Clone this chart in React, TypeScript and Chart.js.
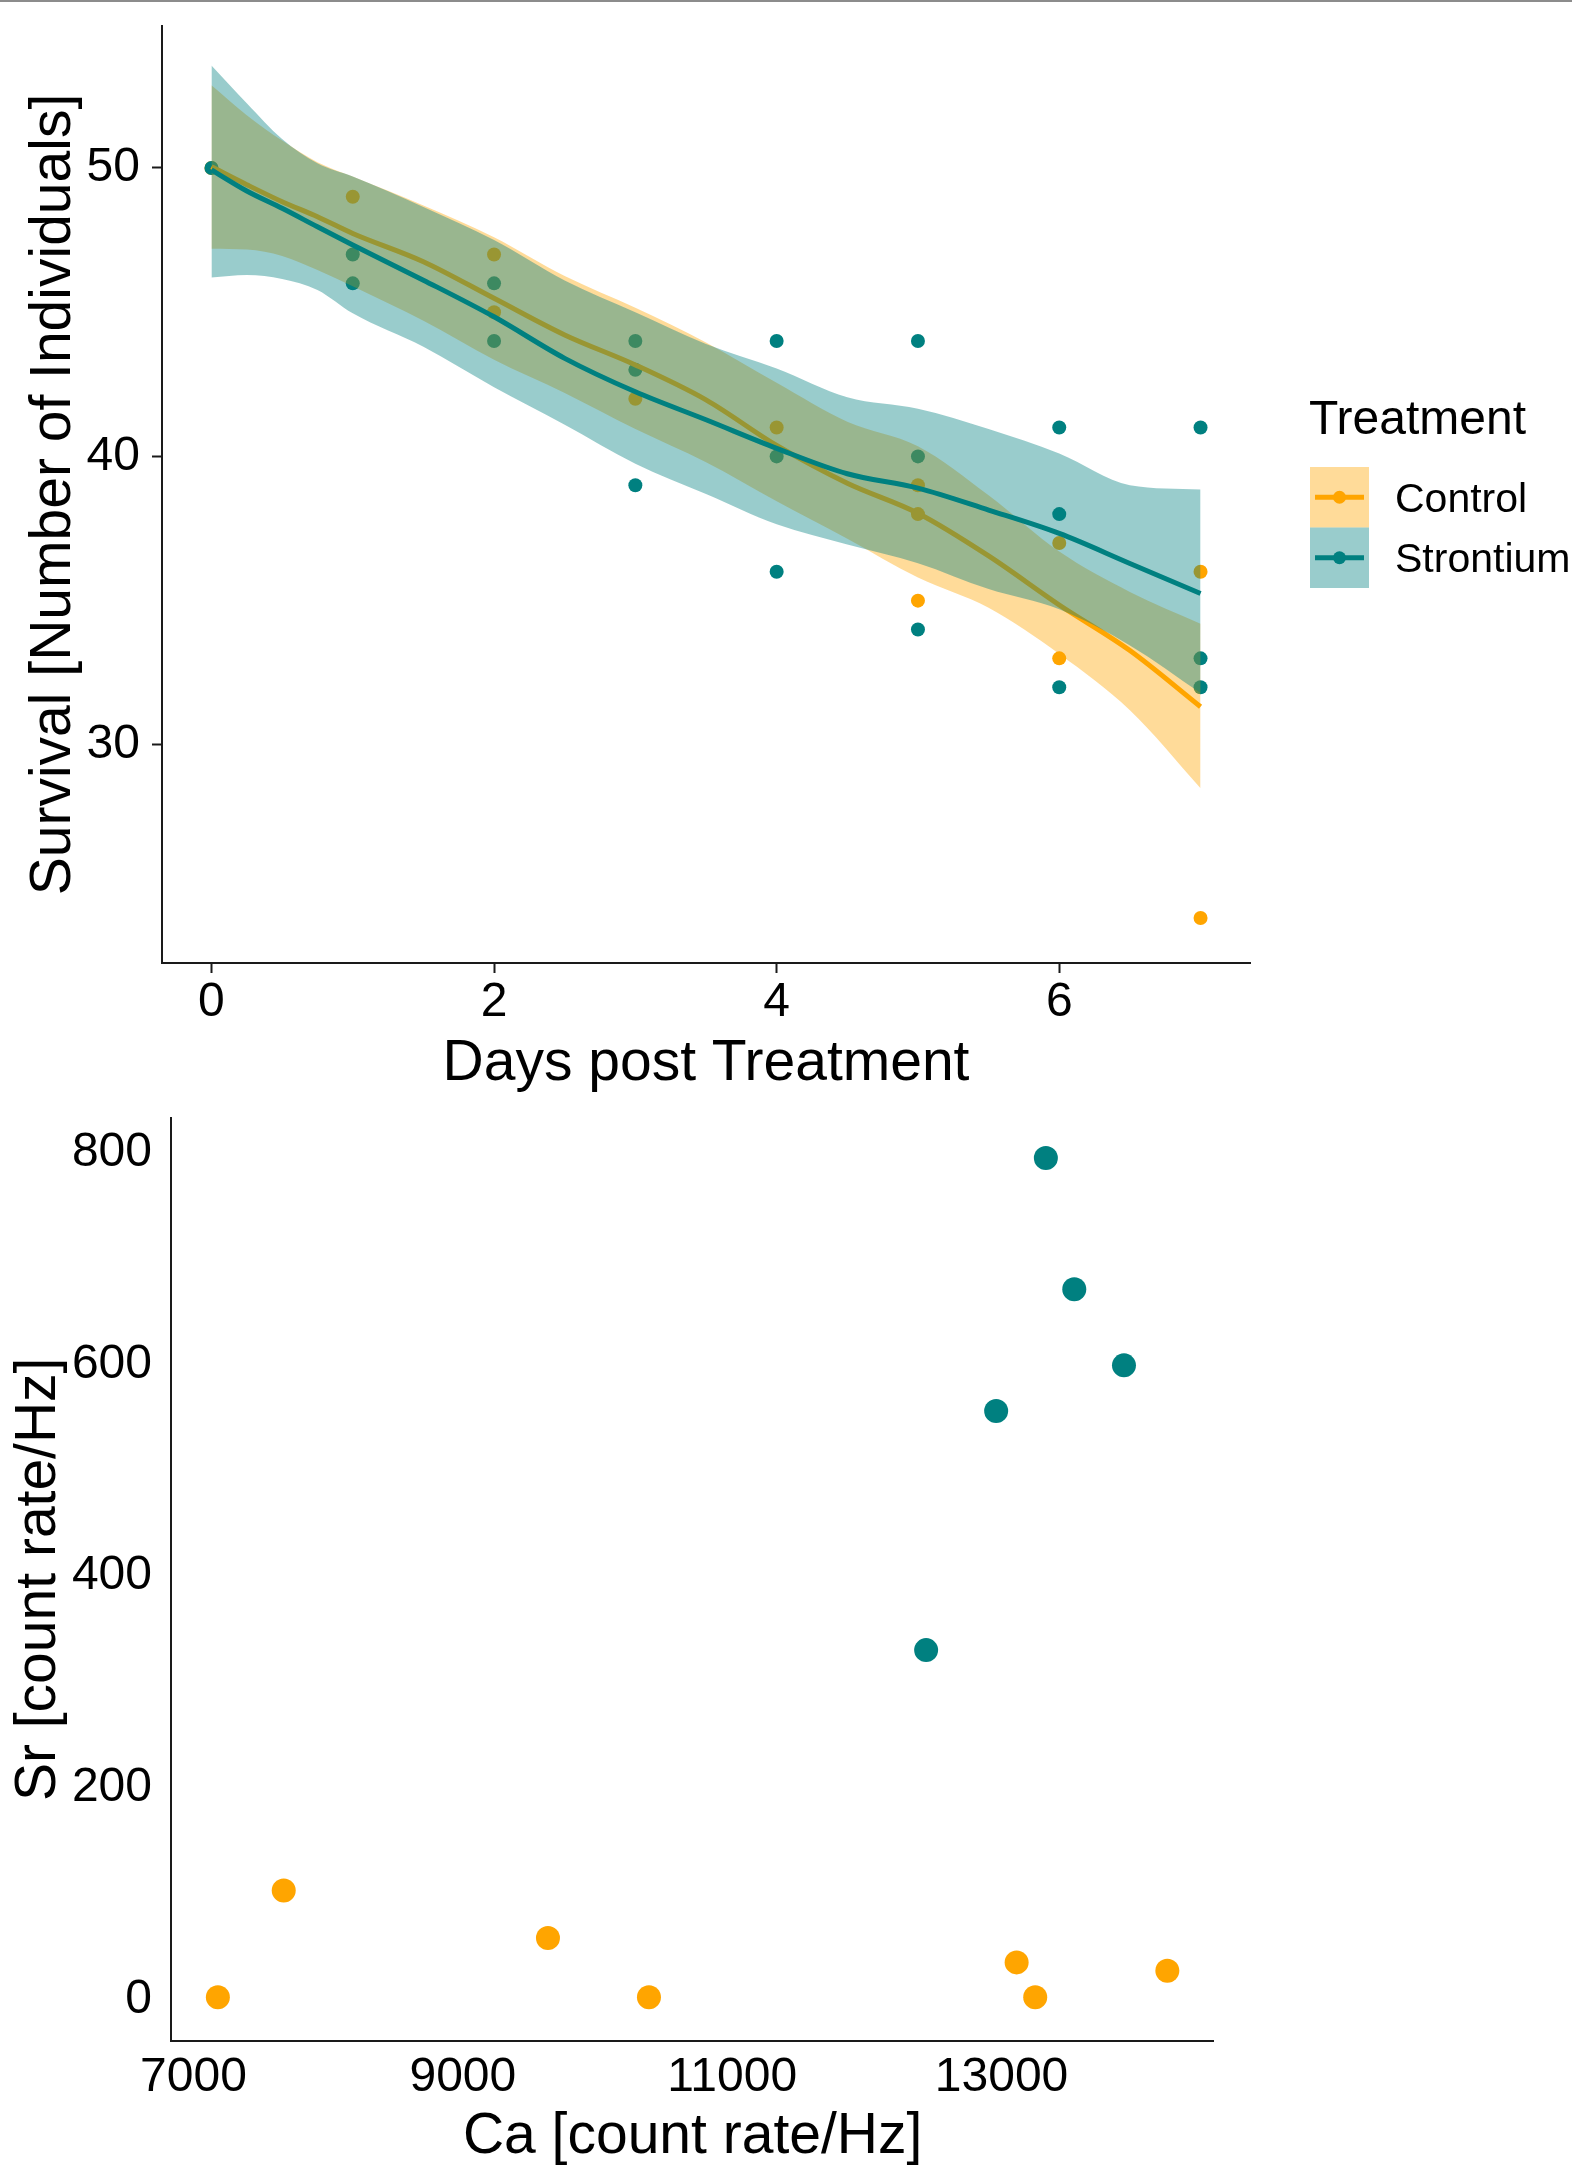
import React, { useEffect, useRef } from "react";
import { Chart, registerables } from "chart.js";

Chart.register(...registerables);

const FONT = '"Liberation Sans", Arimo, Arial, sans-serif';
const ORANGE = "#FFA500";
const TEAL = "#008080";
const ORANGE_RIBBON = "rgba(255, 165, 0, 0.4)";
const TEAL_RIBBON = "rgba(0, 128, 128, 0.4)";
const AXIS = "#1a1a1a";

// ---------- Top panel: survival over time ----------
const treatments = ["Control", "Strontium"];
const dayTicks = [0, 2, 4, 6];
const survivalTicks = [30, 40, 50];

const controlDays = [0, 1, 2, 2, 3, 4, 5, 5, 5, 6, 6, 7, 7];
const controlSurvival = [50, 49, 47, 45, 42, 41, 39, 38, 35, 37, 33, 36, 24];
const strontiumDays = [0, 1, 1, 2, 2, 3, 3, 3, 4, 4, 4, 5, 5, 5, 6, 6, 6, 7, 7, 7];
const strontiumSurvival = [50, 47, 46, 46, 44, 44, 43, 39, 44, 40, 36, 44, 40, 34, 41, 38, 32, 41, 33, 32];

// loess fits and confidence bands
const smoothDays = [0, 0.25, 0.5, 0.75, 1, 1.5, 2, 2.5, 3, 3.5, 4, 4.5, 5, 5.5, 6, 6.5, 7];
const controlFit = [50.04, 49.42, 48.83, 48.31, 47.73, 46.75, 45.48, 44.21, 43.17, 41.96, 40.38, 39.07, 38.03, 36.55, 34.85, 33.27, 31.32];
const controlUpper = [52.87, 51.83, 50.95, 50.2, 49.7, 48.7, 47.6, 46.25, 45.15, 43.95, 42.55, 41.2, 40.35, 38.65, 36.7, 35.3, 34.2];
const controlLower = [47.2, 47.17, 46.95, 46.46, 45.9, 44.7, 43.35, 42.2, 40.95, 39.8, 38.45, 37.15, 35.8, 34.75, 33.15, 31.2, 28.5];
const strontiumFit = [49.93, 49.2, 48.6, 47.96, 47.33, 46.11, 44.84, 43.4, 42.24, 41.27, 40.28, 39.4, 38.9, 38.14, 37.33, 36.29, 35.25];
const strontiumUpper = [53.55, 52.24, 51.0, 50.16, 49.7, 48.65, 47.5, 46.1, 45.0, 43.9, 43.05, 42.05, 41.65, 40.95, 40.1, 39.0, 38.85];
const strontiumLower = [46.2, 46.29, 46.15, 45.77, 44.96, 43.8, 42.4, 41.1, 39.75, 38.7, 37.65, 36.95, 36.3, 35.4, 34.7, 33.45, 31.8];

// ---------- Bottom panel: Sr vs Ca ----------
const caTicks = [7000, 9000, 11000, 13000];
const srTicks = [0, 200, 400, 600, 800];
const controlCa = [7181, 7670, 9632, 10382, 13112, 13250, 14231];
const controlSr = [2, 103, 58, 2, 35, 2, 27];
const strontiumCa = [12440, 12960, 13329, 13540, 13909];
const strontiumSr = [330, 556, 795, 671, 599];

const zip = (xs: number[], ys: number[]) => xs.map((x, i) => ({ x, y: ys[i] }));

const noEdgePadding = (s: any) => {
  s.paddingTop = 0;
  s.paddingBottom = 0;
  s.paddingLeft = 0;
  s.paddingRight = 0;
};

const legendPlugin = {
  id: "treatmentLegend",
  afterDraw(chart: any) {
    const ctx = chart.ctx as CanvasRenderingContext2D;
    const colors = [ORANGE, TEAL];
    const fills = [ORANGE_RIBBON, TEAL_RIBBON];
    ctx.save();
    ctx.textAlign = "left";
    ctx.textBaseline = "middle";
    ctx.fillStyle = "#000";
    ctx.font = `48px ${FONT}`;
    ctx.fillText("Treatment", 1309, 421);
    treatments.forEach((label, i) => {
      const top = 467 + i * 60.5;
      const cy = top + 30.25;
      ctx.fillStyle = fills[i];
      ctx.fillRect(1310, top, 59, 60.5);
      ctx.strokeStyle = colors[i];
      ctx.lineWidth = 5;
      ctx.beginPath();
      ctx.moveTo(1315, cy);
      ctx.lineTo(1364, cy);
      ctx.stroke();
      ctx.fillStyle = colors[i];
      ctx.beginPath();
      ctx.arc(1339.5, cy, 6.5, 0, Math.PI * 2);
      ctx.fill();
      ctx.fillStyle = "#000";
      ctx.font = `41px ${FONT}`;
      ctx.fillText(label, 1395, cy + 3);
    });
    ctx.restore();
  },
};

function topConfig(): any {
  const tickFont = { family: FONT, size: 48, lineHeight: 1 };
  const titleFont = { family: FONT, size: 57, lineHeight: 1 };
  const lineBase = { pointRadius: 0, cubicInterpolationMode: "monotone", showLine: true };
  return {
    type: "line",
    data: {
      datasets: [
        { label: "Control points", data: zip(controlDays, controlSurvival), showLine: false, pointRadius: 7, pointBorderWidth: 0, pointBackgroundColor: ORANGE, order: 6 },
        { label: "Strontium points", data: zip(strontiumDays, strontiumSurvival), showLine: false, pointRadius: 7, pointBorderWidth: 0, pointBackgroundColor: TEAL, order: 5 },
        { ...lineBase, label: "Control lower", data: zip(smoothDays, controlLower), borderWidth: 0, borderColor: "transparent", fill: false, order: 4 },
        { ...lineBase, label: "Control upper", data: zip(smoothDays, controlUpper), borderWidth: 0, borderColor: "transparent", backgroundColor: ORANGE_RIBBON, fill: 2, order: 4 },
        { ...lineBase, label: "Control fit", data: zip(smoothDays, controlFit), borderWidth: 5, borderColor: ORANGE, fill: false, order: 3 },
        { ...lineBase, label: "Strontium lower", data: zip(smoothDays, strontiumLower), borderWidth: 0, borderColor: "transparent", fill: false, order: 2 },
        { ...lineBase, label: "Strontium upper", data: zip(smoothDays, strontiumUpper), borderWidth: 0, borderColor: "transparent", backgroundColor: TEAL_RIBBON, fill: 5, order: 2 },
        { ...lineBase, label: "Strontium fit", data: zip(smoothDays, strontiumFit), borderWidth: 5, borderColor: TEAL, fill: false, order: 1 },
      ],
    },
    options: {
      animation: false,
      responsive: false,
      devicePixelRatio: 1,
      events: [],
      layout: { padding: { top: 26, right: 322, bottom: 0, left: 0 } },
      plugins: { legend: { display: false }, tooltip: { enabled: false }, filler: { propagate: false } },
      scales: {
        x: {
          type: "linear",
          min: -0.35,
          max: 7.35,
          afterBuildTicks: (s: any) => { s.ticks = dayTicks.map((v) => ({ value: v })); },
          afterFit: (s: any) => { s.height = 132; noEdgePadding(s); },
          grid: { display: true, drawOnChartArea: false, drawTicks: true, tickLength: 10, tickWidth: 2, tickColor: AXIS, color: AXIS },
          border: { display: true, color: AXIS, width: 2 },
          ticks: { color: "#000", font: tickFont, padding: 6, maxRotation: 0, autoSkip: false, callback: (v: any) => String(v) },
          title: { display: true, text: "Days post Treatment", color: "#000", font: titleFont, padding: { top: 0, bottom: 2.6 } },
        },
        y: {
          type: "linear",
          min: 22.44,
          max: 54.92,
          afterBuildTicks: (s: any) => { s.ticks = survivalTicks.map((v) => ({ value: v })); },
          afterFit: (s: any) => { s.width = 162; noEdgePadding(s); },
          grid: { display: true, drawOnChartArea: false, drawTicks: true, tickLength: 10, tickWidth: 2, tickColor: AXIS, color: AXIS },
          border: { display: true, color: AXIS, width: 2 },
          ticks: { color: "#000", font: tickFont, padding: 12, autoSkip: false, callback: (v: any) => String(v) },
          title: { display: true, text: "Survival [Number of Individuals]", color: "#000", font: titleFont, padding: { top: 25.8, bottom: 0 } },
        },
      },
    },
    plugins: [legendPlugin],
  };
}

function bottomConfig(): any {
  const tickFont = { family: FONT, size: 48, lineHeight: 1 };
  const titleFont = { family: FONT, size: 57, lineHeight: 1 };
  return {
    type: "scatter",
    data: {
      datasets: [
        { label: "Control", data: zip(controlCa, controlSr), pointRadius: 12, pointBorderWidth: 0, pointBackgroundColor: ORANGE },
        { label: "Strontium", data: zip(strontiumCa, strontiumSr), pointRadius: 12, pointBorderWidth: 0, pointBackgroundColor: TEAL },
      ],
    },
    options: {
      animation: false,
      responsive: false,
      devicePixelRatio: 1,
      events: [],
      layout: { padding: { top: 23, right: 358.2, bottom: 0, left: 0 } },
      plugins: { legend: { display: false }, tooltip: { enabled: false } },
      scales: {
        x: {
          type: "linear",
          min: 6836,
          max: 14576,
          afterBuildTicks: (s: any) => { s.ticks = caTicks.map((v) => ({ value: v })); },
          afterFit: (s: any) => { s.height = 129.4; noEdgePadding(s); },
          grid: { display: false, drawTicks: false },
          border: { display: true, color: AXIS, width: 2 },
          ticks: { color: "#000", font: tickFont, padding: 13.2, maxRotation: 0, autoSkip: false, callback: (v: any) => String(v) },
          title: { display: true, text: "Ca [count rate/Hz]", color: "#000", font: titleFont, padding: { top: 0, bottom: 4.1 } },
        },
        y: {
          type: "linear",
          min: -38.9,
          max: 832.7,
          afterBuildTicks: (s: any) => { s.ticks = srTicks.map((v) => ({ value: v })); },
          afterFit: (s: any) => { s.width = 171.4; noEdgePadding(s); },
          grid: { display: false, drawTicks: false },
          border: { display: true, color: AXIS, width: 2 },
          ticks: { color: "#000", font: tickFont, padding: 19.4, autoSkip: false, callback: (v: any) => String(v) },
          title: { display: true, text: "Sr [count rate/Hz]", color: "#000", font: titleFont, padding: { top: 10.7, bottom: 0 } },
        },
      },
    },
  };
}

function ChartCanvas(props: { make: () => any; top: number; width: number; height: number }) {
  const ref = useRef<HTMLCanvasElement>(null);
  useEffect(() => {
    if (!ref.current) return;
    const chart = new Chart(ref.current, props.make());
    return () => chart.destroy();
  }, []);
  return (
    <canvas
      ref={ref}
      width={props.width}
      height={props.height}
      style={{ position: "absolute", left: 0, top: props.top, width: props.width, height: props.height, display: "block" }}
    />
  );
}

export default function App() {
  return (
    <div style={{ position: "absolute", left: 0, top: 0, width: 1572, height: 2170, background: "#fff", overflow: "hidden" }}>
      <ChartCanvas make={topConfig} top={0} width={1572} height={1095} />
      <ChartCanvas make={bottomConfig} top={1095} width={1572} height={1075} />
      <div style={{ position: "absolute", left: 0, top: 0, width: 1572, height: 2, background: "#8c8c8c" }} />
    </div>
  );
}
